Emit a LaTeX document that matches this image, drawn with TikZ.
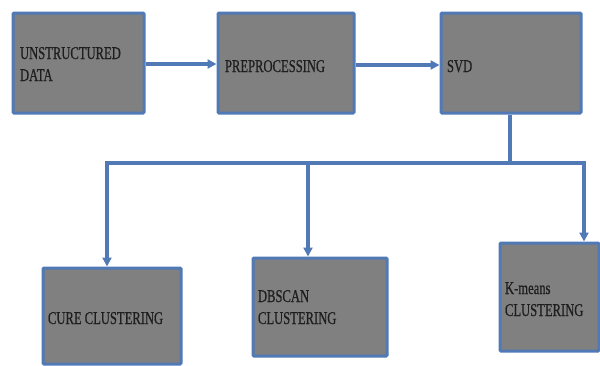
\documentclass[tikz,border=0pt]{standalone}
\usepackage{fontspec}
\newfontfamily\boxfont[FakeStretch=0.7,FakeBold=0.6]{Liberation Serif}
\usetikzlibrary{arrows.meta}
\definecolor{edgeblue}{HTML}{5079B5}
\definecolor{boxgray}{HTML}{808080}
\definecolor{txt}{HTML}{1E1E1E}
\tikzset{
  box/.style={draw=edgeblue, fill=boxgray, line width=3pt, rectangle, inner sep=0pt, rounded corners=1pt},
  lbl/.style={inner sep=0pt, outer sep=0pt, text=txt, align=left, font=\boxfont\fontsize{18}{22}\selectfont, anchor=base west},
  conn/.style={draw=edgeblue, line width=3.5pt},
  arr/.style={conn, -{Triangle[length=9pt,width=9pt]}}
}
\begin{document}
\begin{tikzpicture}[x=1pt,y=-1pt]
\useasboundingbox (0,0) rectangle (600,365);
% top row boxes
\node[box, minimum width=131pt, minimum height=100pt] (b1) at (78.5,63) {};
\node[box, minimum width=136pt, minimum height=100pt] (b2) at (286,63) {};
\node[box, minimum width=140pt, minimum height=100pt] (b3) at (511,63) {};
% bottom boxes
\node[box, minimum width=138pt, minimum height=96pt] (c1) at (112,316) {};
\node[box, minimum width=134pt, minimum height=98pt] (c2) at (320,307) {};
\node[box, minimum width=99pt, minimum height=108pt] (c3) at (549.5,297) {};
% labels (base anchor = baseline of last line)
\node[lbl] (t1) at (20,81) {UNSTRUCTURED\\DATA};
\node[lbl] (t2) at (225,72) {PREPROCESSING};
\node[lbl] (t3) at (447,72) {SVD};
\node[lbl] (t4) at (48,324) {CURE CLUSTERING};
\node[lbl] (t5) at (258,324) {DBSCAN\\CLUSTERING};
\node[lbl] (t6) at (505,316) {K-means\\CLUSTERING};
% connectors top row
\draw[arr] (b1.east |- 0,64) -- (b2.west |- 0,64);
\draw[arr] (b2.east |- 0,65) -- (b3.west |- 0,65);
% branching
\coordinate (j) at (510,163);
\coordinate (jl) at (107,163);
\coordinate (jm) at (308,163);
\coordinate (jr) at (584,163);
\draw[conn] (b3.south -| j) -- (j);
\draw[conn, line cap=rect] (jl) -- (jr);
\draw[arr] (jl) -- (jl |- c1.north);
\draw[arr] (jm) -- (jm |- c2.north);
\draw[arr] (jr) -- (jr |- c3.north);
\end{tikzpicture}
\end{document}
